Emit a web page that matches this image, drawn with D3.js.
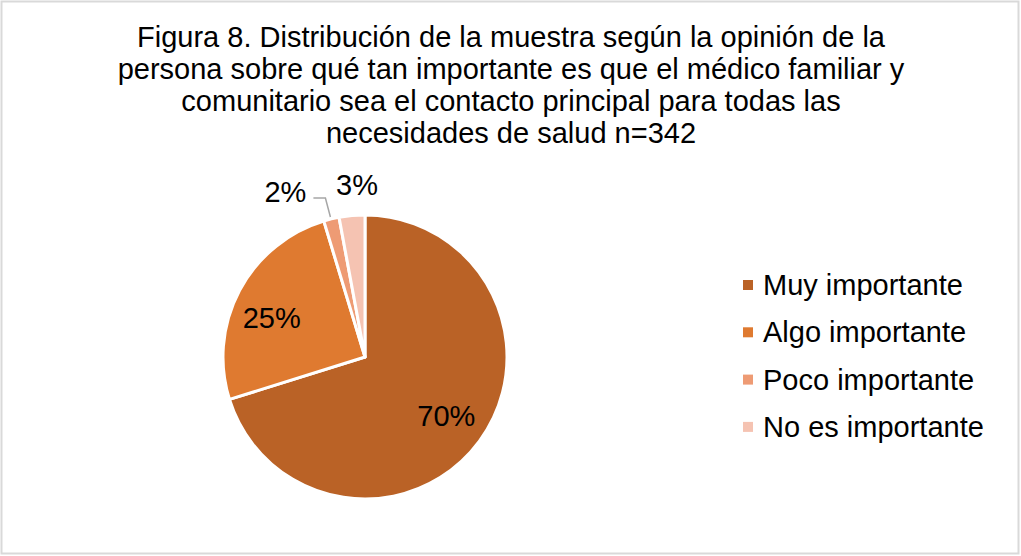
<!DOCTYPE html>
<html>
<head>
<meta charset="utf-8">
<script src="https://cdn.jsdelivr.net/npm/d3@7"></script>
<style>
  html, body { margin: 0; padding: 0; background: #fff; }
  svg { display: block; font-family: "Liberation Sans", Arial, sans-serif; }
</style>
</head>
<body>
<svg id="chart" width="1021" height="556"></svg>
<script>
const titleLines = [
  "Figura 8. Distribución de la muestra según la opinión de la",
  "persona sobre qué tan importante es que el médico familiar y",
  "comunitario sea el contacto principal para todas las",
  "necesidades de salud n=342"
];
const categories = ["Muy importante", "Algo importante", "Poco importante", "No es importante"];
const counts = [240, 86, 6, 10];
const colors = ["#BA6226", "#DF7A30", "#EE9B74", "#F5C3B2"];

const svg = d3.select("#chart");
const W = 1021, H = 556;

svg.append("rect")
  .attr("x", 1.5).attr("y", 1.5)
  .attr("width", W - 4).attr("height", H - 4)
  .attr("fill", "#fff").attr("stroke", "#d9d9d9").attr("stroke-width", 2);

const fs = 29;
svg.append("g").selectAll("text").data(titleLines).join("text")
  .attr("x", 511).attr("y", (d, i) => 47 + i * 32)
  .attr("text-anchor", "middle")
  .attr("font-size", fs).attr("fill", "#000")
  .text(d => d);

const cx = 365, cy = 357, R = 142;
const total = d3.sum(counts);
const pie = d3.pie().sort(null).value(d => d.v);
const data = pie(categories.map((c, i) => ({ c, v: counts[i], color: colors[i] })));
const arc = d3.arc().innerRadius(0).outerRadius(R);
const g = svg.append("g").attr("transform", `translate(${cx},${cy})`);
g.selectAll("path").data(data).join("path")
  .attr("d", arc)
  .attr("fill", d => d.data.color)
  .attr("stroke", "#fff").attr("stroke-width", 3).attr("stroke-linejoin", "round");

const pct = d => d3.format(".0%")(d.data.v / total);
const labelArc = d3.arc().innerRadius(R * 0.72).outerRadius(R * 0.72);
// inside labels, offsets from the arc centroid
const insideOffsets = [[-1, 8], [-3, 19]];
insideOffsets.forEach((o, i) => {
  const [x, y] = labelArc.centroid(data[i]);
  g.append("text")
    .attr("x", x + o[0]).attr("y", y + o[1])
    .attr("text-anchor", "middle")
    .attr("font-size", fs).attr("fill", "#000")
    .text(pct(data[i]));
});

const outerPt = d => { const a = (d.startAngle + d.endAngle) / 2; return [Math.sin(a) * R, -Math.cos(a) * R]; };
// "2%" with leader line
{
  const d = data[2];
  const [px, py] = outerPt(d);
  g.append("polyline")
    .attr("points", [[px - 1, py - 2], [px - 6, py - 21], [px - 18, py - 21]].map(p => p.join(",")).join(" "))
    .attr("fill", "none").attr("stroke", "#a6a6a6").attr("stroke-width", 1.5);
  g.append("text")
    .attr("x", px - 46).attr("y", py - 17.5)
    .attr("text-anchor", "middle")
    .attr("font-size", fs).attr("fill", "#000")
    .text(pct(d));
}
// "3%"
{
  const d = data[3];
  const [px, py] = outerPt(d);
  g.append("text")
    .attr("x", px + 5).attr("y", py - 21)
    .attr("text-anchor", "middle")
    .attr("font-size", fs).attr("fill", "#000")
    .text(pct(d));
}

// legend
const lg = svg.append("g").attr("transform", "translate(743,295)");
const rows = lg.selectAll("g").data(categories).join("g")
  .attr("transform", (d, i) => `translate(0,${i * 47.3})`);
rows.append("rect").attr("x", 0).attr("y", -15).attr("width", 10).attr("height", 10)
  .attr("fill", (d, i) => colors[i]);
rows.append("text").attr("x", 20).attr("y", 0)
  .attr("font-size", fs).attr("fill", "#000")
  .text(d => d);
</script>
</body>
</html>
